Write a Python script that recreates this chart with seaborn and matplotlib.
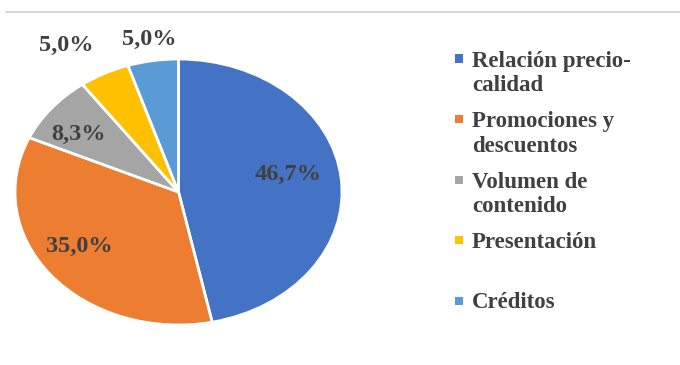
import matplotlib
matplotlib.use("Agg")
import matplotlib.pyplot as plt
import seaborn as sns
import numpy as np
from matplotlib.lines import Line2D
from matplotlib.patches import Rectangle

# Factors named by respondents and their share of answers (%)
categories = [
    "Relación precio-\ncalidad",
    "Promociones y\ndescuentos",
    "Volumen de\ncontenido",
    "Presentación",
    "Créditos",
]
shares = [46.7, 35.0, 8.3, 5.0, 5.0]
slice_colors = ["#4472C4", "#ED7D31", "#A5A5A5", "#FFC000", "#5B9BD5"]

sns.set_theme(style="white")
plt.rcParams["font.family"] = ["Liberation Serif", "DejaVu Serif"]

W, H = 680, 365
TEXT_COLOR = "#404040"

fig = plt.figure(figsize=(W / 100, H / 100), dpi=100)
fig.patch.set_facecolor("white")

# pie area (slightly wider than tall)
ax = fig.add_axes([15 / W, 40 / H, 327 / W, 266 / H])
palette = sns.color_palette(slice_colors)
wedges, _ = ax.pie(
    shares,
    colors=palette,
    startangle=90,
    counterclock=False,
    wedgeprops=dict(edgecolor="white", linewidth=2),
)
ax.set_aspect("auto")
ax.set_xlim(-1, 1)
ax.set_ylim(-1, 1)
ax.axis("off")

# percentage labels: inside the large slices, outside the small ones
label_r = [0.68, 0.73, 0.75, 1.30, 1.16]
label_nudge = [5, -5, 4, 5, 0]
for w, v, r, d in zip(wedges, shares, label_r, label_nudge):
    mid = np.deg2rad((w.theta1 + w.theta2) / 2 + d)
    ax.text(
        r * np.cos(mid), r * np.sin(mid),
        f"{v:.1f}%".replace(".", ","),
        ha="center", va="center",
        fontsize=17.5, fontweight="bold", color=TEXT_COLOR,
        clip_on=False,
    )

# legend on the right
x_mark, x_text = 459, 472
base0, step, line_px = 66, 60.6, 25
for i, (lab, c) in enumerate(zip(categories, palette)):
    yb = base0 + step * i
    fig.add_artist(Rectangle(
        ((x_mark - 4) / W, 1 - (yb - 7.5 + 4) / H), 8 / W, 8 / H,
        transform=fig.transFigure, facecolor=c, edgecolor="none",
    ))
    n_lines = lab.count("\n") + 1
    fig.text(
        x_text / W, 1 - (yb + line_px * (n_lines - 1)) / H, lab,
        ha="left", va="baseline",
        fontsize=16.5, fontweight="bold", color=TEXT_COLOR,
        linespacing=1.2,
    )

# thin frame line along the top
fig.add_artist(Line2D([6 / W, 1], [1 - 12 / H, 1 - 12 / H],
                      transform=fig.transFigure, color="#D9D9D9", lw=1.5))

fig.savefig("out.png", dpi=100, facecolor="white")
